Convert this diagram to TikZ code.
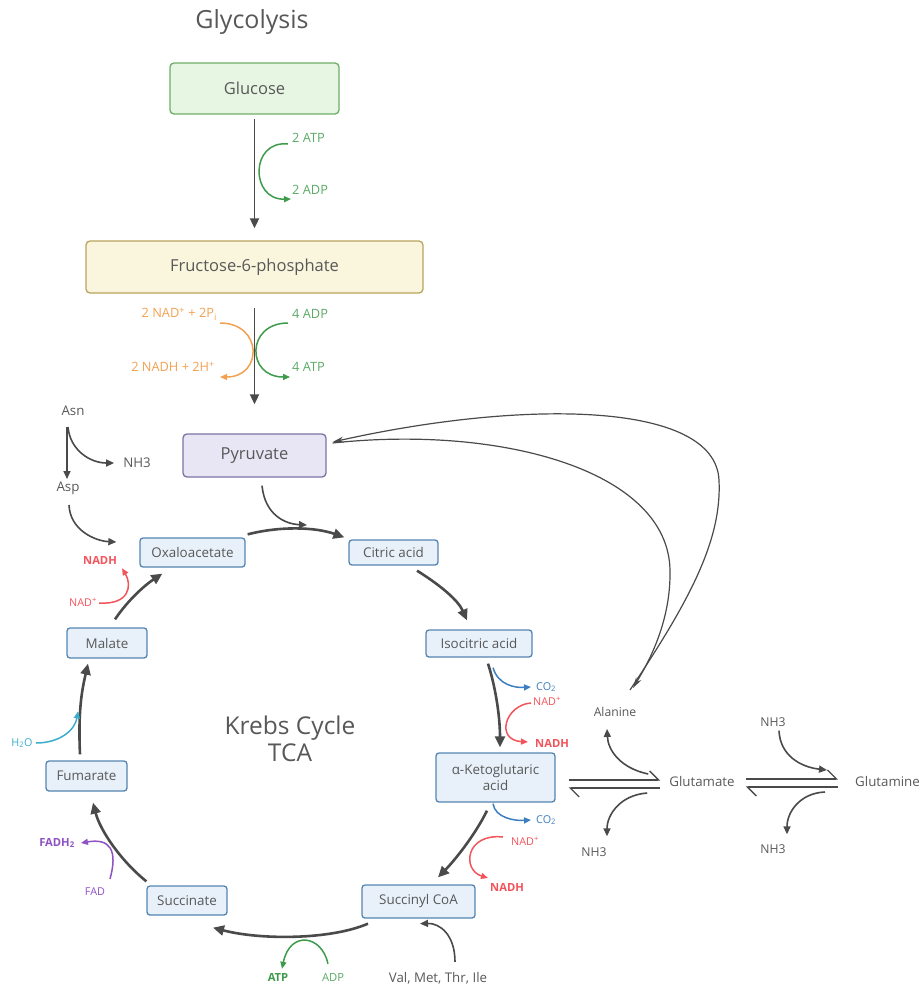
\documentclass[tikz,border=0pt]{standalone}
\usepackage{fontspec}
\setmainfont{Open Sans}
\usetikzlibrary{arrows.meta}
\definecolor{txtgray}{HTML}{585858}
\definecolor{arrgray}{HTML}{4A4A4A}
\definecolor{glufill}{HTML}{E7F5E3}
\definecolor{gluline}{HTML}{6DAE66}
\definecolor{f6pfill}{HTML}{FAF5DD}
\definecolor{f6pline}{HTML}{B9A45E}
\definecolor{pyrfill}{HTML}{E8E5F5}
\definecolor{pyrline}{HTML}{7D72A3}
\definecolor{tcafill}{HTML}{E8F1FA}
\definecolor{tcaline}{HTML}{5485B2}
\definecolor{atpgreen}{HTML}{3E9B4B}
\definecolor{nadorange}{HTML}{F2A152}
\definecolor{nadred}{HTML}{F2545B}
\definecolor{co2blue}{HTML}{3C7EC0}
\definecolor{h2ocyan}{HTML}{3AAECB}
\definecolor{fadpurple}{HTML}{8E52C4}
\begin{document}
\begin{tikzpicture}[x=1pt,y=-1pt]
\tikzstyle{every node}=[inner sep=1pt]
\tikzstyle{box}=[draw=tcaline,fill=tcafill,rounded corners=3pt,line width=1.3pt,text=txtgray,inner sep=0pt,font=\fontsize{13.4}{15.5}\selectfont,align=center]
\tikzstyle{glybox}=[box,rounded corners=4pt,font=\fontsize{16.5}{19}\selectfont]
\tikzstyle{lbl}=[text=txtgray,font=\fontsize{13.3}{15}\selectfont]
\tikzstyle{small}=[text=txtgray,font=\fontsize{12.2}{14}\selectfont]
\tikzstyle{glyside}=[font=\fontsize{12.8}{15}\selectfont]
\tikzstyle{side}=[font=\fontsize{10.8}{13}\selectfont]
\tikzstyle{sidebf}=[font=\fontsize{11.2}{13}\selectfont\bfseries]
\tikzstyle{cyc}=[draw=arrgray,line width=2.6pt,-{Triangle[length=11pt,width=10pt]}]
\tikzstyle{gly}=[draw=arrgray,line width=1.8pt,-{Triangle[length=10pt,width=9pt]}]
\tikzstyle{thin}=[draw=arrgray,line width=1.6pt,-{Triangle[length=8pt,width=7pt]}]
\tikzstyle{loop}=[draw=arrgray,line width=1.2pt,-{Stealth[length=11pt,width=6pt]}]
\tikzstyle{co}=[line width=1.5pt,-{Triangle[length=7pt,width=6pt]}]
\tikzstyle{eqline}=[draw=arrgray,line width=1.3pt]
\useasboundingbox (0,0) rectangle (919,986);
\node[text=txtgray,font=\fontsize{25}{29}\selectfont] at (252,22) (glyc) {Glycolysis};
\node[glybox,draw=gluline,fill=glufill,minimum width=169pt,minimum height=51pt] at (254.5,88.5) (glucose) {Glucose};
\node[glybox,draw=f6pline,fill=f6pfill,minimum width=337pt,minimum height=52pt] at (254.5,267) (f6p) {Fructose-6-phosphate};
\node[glybox,draw=pyrline,fill=pyrfill,minimum width=143pt,minimum height=43pt] at (254.5,455.5) (pyruvate) {Pyruvate};
\node[glyside,text=atpgreen!85,anchor=west] at (291,138) (atp2) {2 ATP};
\node[glyside,text=atpgreen!85,anchor=west] at (291,190) (adp2) {2 ADP};
\node[glyside,text=nadorange,anchor=east] at (218,314) (nadgly) {2 NAD\textsuperscript{+} + 2P\textsubscript{i}};
\node[glyside,text=nadorange,anchor=east] at (216,367) (nadhgly) {2 NADH + 2H\textsuperscript{+}};
\node[glyside,text=atpgreen!85,anchor=west] at (291,314) (adp4) {4 ADP};
\node[glyside,text=atpgreen!85,anchor=west] at (291,367) (atp4) {4 ATP};
\draw[gly,shorten <=4pt,shorten >=12pt] (glucose) -- (f6p);
\draw[gly,shorten <=14pt,shorten >=29pt] (f6p) -- (pyruvate);
\draw[co,draw=atpgreen] ([shift={(-3,6)}]atp2.west) .. controls (250,140) and (250,200) .. ([shift={(0,9)}]adp2.west);
\draw[co,draw=nadorange] ([shift={(2,9)}]nadgly.east) .. controls (263,323) and (263,377) .. ([shift={(4,10)}]nadhgly.east);
\draw[co,draw=atpgreen] ([shift={(-3,9)}]adp4.west) .. controls (246,323) and (246,377) .. ([shift={(-1,10)}]atp4.west);
\node[box,minimum width=105pt,minimum height=29pt] at (192.5,552.5) (oxalo) {Oxaloacetate};
\node[box,minimum width=89pt,minimum height=25pt] at (393.5,552.5) (citric) {Citric acid};
\node[box,minimum width=106pt,minimum height=27pt] at (479,643.5) (isocitric) {Isocitric acid};
\node[box,minimum width=119pt,minimum height=49pt] at (495.5,777.5) (akg) {α-Ketoglutaric\\acid};
\node[box,minimum width=113pt,minimum height=33pt] at (418.5,901.5) (succoa) {Succinyl CoA};
\node[box,minimum width=80pt,minimum height=29pt] at (187,900.5) (succinate) {Succinate};
\node[box,minimum width=81pt,minimum height=30pt] at (86.5,776) (fumarate) {Fumarate};
\node[box,minimum width=80pt,minimum height=30pt] at (107,643) (malate) {Malate};
\node[text=txtgray,font=\fontsize{24.5}{27}\selectfont,align=center] at (290,739) (krebs) {Krebs Cycle\\TCA};
\node[lbl] at (73,411) (asn) {Asn};
\node[lbl] at (68,488) (asp) {Asp};
\node[lbl] at (137,463) (nhasn) {NH3};
\coordinate (pyrin) at (307,525);
\draw[thin] ([shift={(7.5,8)}]pyruvate.south) .. controls (265,515) and (285,524) .. (pyrin);
\draw[thin] ([shift={(-6,16)}]asn.center) -- ([shift={(-1,-9)}]asp.center);
\draw[thin] ([shift={(-5,16)}]asn.center) .. controls (70,450) and (90,463) .. ([shift={(-8,0)}]nhasn.west);
\draw[thin] ([shift={(1,17)}]asp.center) .. controls (70,530) and (95,541) .. ([shift={(-23,-10.5)}]oxalo.west);
\draw[cyc] ([shift={(2,-3)}]oxalo.north east) .. controls (280,526) and (315,527) .. ([shift={(-4,-2)}]citric.north west);
\draw[cyc] ([shift={(23.5,5)}]citric.south) .. controls (440,585) and (458,600) .. ([shift={(-12,-9)}]isocitric.north);
\draw[cyc] ([shift={(9,6)}]isocitric.south) .. controls (495,685) and (500,715) .. ([shift={(4.5,-5)}]akg.north);
\draw[cyc] ([shift={(-8.5,8)}]akg.south) .. controls (475,835) and (455,860) .. ([shift={(19.5,-7)}]succoa.north);
\draw[cyc] ([shift={(-50.5,5)}]succoa.south) .. controls (330,940) and (260,940) .. ([shift={(26,12)}]succinate.south);
\draw[cyc] ([shift={(0,-4)}]succinate.north west) .. controls (120,860) and (100,830) .. ([shift={(6.5,11)}]fumarate.south);
\draw[cyc] ([shift={(-6.5,-6)}]fumarate.north) .. controls (78,710) and (82,690) .. ([shift={(-19,5)}]malate.south);
\draw[cyc] ([shift={(8,-8)}]malate.north) .. controls (128,600) and (145,585) .. ([shift={(23,6)}]oxalo.south west);
\node[side,text=co2blue,anchor=west] at (535,687) (co2a) {CO\textsubscript{2}};
\node[side,text=nadred,anchor=west] at (532,701) (nada) {NAD\textsuperscript{+}};
\node[sidebf,text=nadred,anchor=west] at (534,743) (nadha) {NADH};
\draw[co,draw=co2blue] ([shift={(14,10)}]isocitric.south) .. controls (498,685) and (515,688) .. ([shift={(-4,0)}]co2a.west);
\draw[co,draw=nadred] ([shift={(-1,2)}]nada.west) .. controls (505,705) and (495,740) .. ([shift={(-6,-1)}]nadha.west);
\node[side,text=co2blue,anchor=west] at (535,820) (co2b) {CO\textsubscript{2}};
\node[side,text=nadred,anchor=west] at (510,841) (nadb) {NAD\textsuperscript{+}};
\node[sidebf,text=nadred,anchor=west] at (489,887) (nadhb) {NADH};
\draw[co,draw=co2blue] ([shift={(-2.5,1)}]akg.south) .. controls (495,818) and (515,821) .. ([shift={(-4,0)}]co2b.west);
\draw[co,draw=nadred] ([shift={(-7,-4)}]nadb.west) .. controls (465,833) and (462,870) .. ([shift={(-1,-9)}]nadhb.west);
\node[side,text=nadred] at (83,602) (nadc) {NAD\textsuperscript{+}};
\node[sidebf,text=nadred] at (100,560) (nadhc) {NADH};
\draw[co,draw=nadred] ([shift={(1,1)}]nadc.east) .. controls (130,605) and (132,585) .. ([shift={(4,3)}]nadhc.south east);
\node[side,text=h2ocyan] at (22,743) (h2o) {H\textsubscript{2}O};
\draw[co,draw=h2ocyan] ([shift={(2,0)}]h2o.east) .. controls (60,743) and (75,730) .. ([shift={(-8.5,-49)}]fumarate.north);
\node[sidebf,text=fadpurple] at (57,843) (fadh) {FADH\textsubscript{2}};
\node[side,text=fadpurple] at (95,892) (fad) {FAD};
\draw[co,draw=fadpurple] ([shift={(15,-8)}]fad.north) .. controls (118,850) and (110,838) .. ([shift={(5,0)}]fadh.east);
\node[sidebf,text=atpgreen] at (278,977) (atp) {ATP};
\node[side,font=\fontsize{11.2}{13}\selectfont,text=atpgreen!85] at (333,977) (adp) {ADP};
\draw[co,draw=atpgreen] ([shift={(-5,-8)}]adp.north) .. controls (322,935) and (290,930) .. ([shift={(4,-3)}]atp.north);
\node[lbl] at (438,978) (aminos) {Val, Met, Thr, Ile};
\draw[thin] ([shift={(17,-9)}]aminos.north) .. controls (455,935) and (440,923) .. ([shift={(1.5,5)}]succoa.south);
\node[small] at (615,712) (alanine) {Alanine};
\node[lbl] at (702,782) (glu) {Glutamate};
\node[lbl,anchor=west] at (854,782) (gln) {Glutamine};
\node[small] at (594,852) (nhglu) {NH3};
\node[small] at (773,722) (nhin) {NH3};
\node[small] at (773,849) (nhout) {NH3};
\draw[loop] ([shift={(15,-22)}]alanine.center) .. controls (690,600) and (722,540) .. (719,480) .. controls (715,400) and (520,400) .. ([shift={(6,-13.5)}]pyruvate.east);
\draw[loop] ([shift={(6,-12.5)}]pyruvate.east) .. controls (500,425) and (668,470) .. (670,570) .. controls (671,620) and (650,660) .. ([shift={(18,-24)}]alanine.center);
\draw[eqline,-{Straight Barb[left,length=9pt]}] ([shift={(13,2.5)}]akg.east) -- ([shift={(-8,-2)}]glu.west);
\draw[eqline,{Straight Barb[left,length=9pt]}-] ([shift={(13,10.5)}]akg.east) -- ([shift={(-8,6)}]glu.west);
\draw[eqline,-{Straight Barb[left,length=9pt]}] ([shift={(10,-3)}]glu.east) -- ([shift={(-16,-3)}]gln.west);
\draw[eqline,{Straight Barb[left,length=9pt]}-] ([shift={(10,5)}]glu.east) -- ([shift={(-16,5)}]gln.west);
\draw[thin] ([shift={(-20,-8)}]glu.west) .. controls (620,768) and (608,750) .. ([shift={(-8,11)}]alanine.south);
\draw[thin] ([shift={(-21,11)}]glu.west) .. controls (620,795) and (607,815) .. ([shift={(13,-10)}]nhglu.north);
\draw[thin] ([shift={(6,3)}]nhin.south) .. controls (780,755) and (800,767) .. ([shift={(-27,-12)}]gln.west);
\draw[thin] ([shift={(-29,10)}]gln.west) .. controls (800,793) and (787,812) .. ([shift={(14,-9)}]nhout.north);
\end{tikzpicture}
\end{document}
